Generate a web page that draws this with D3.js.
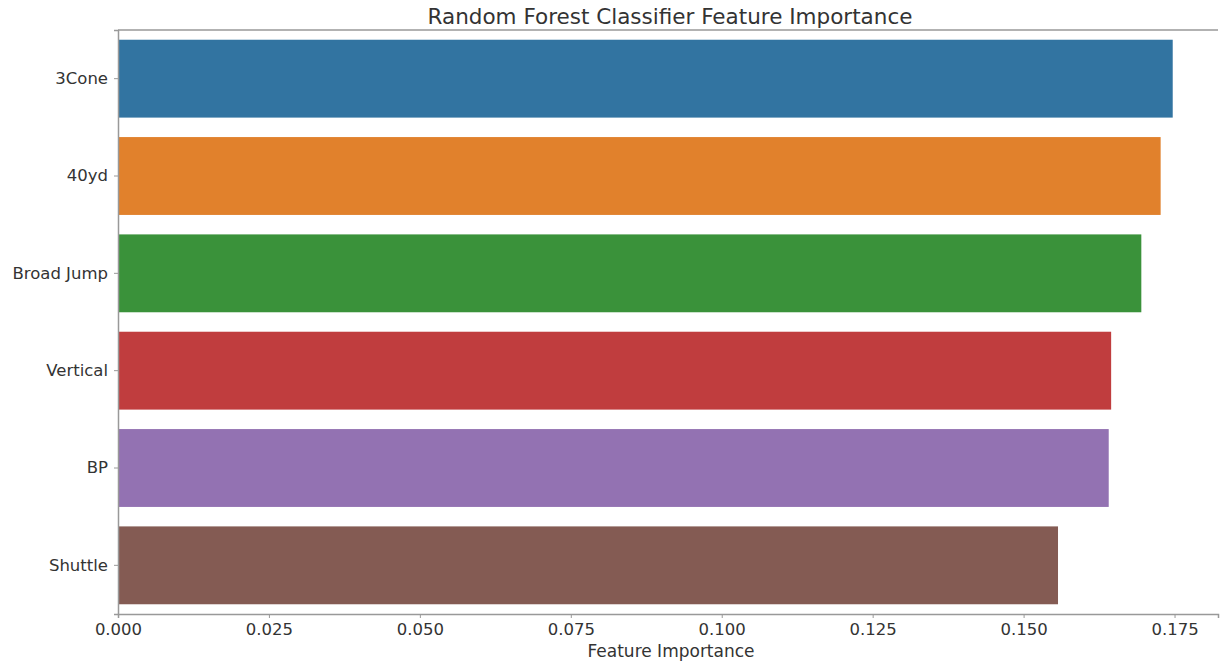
<!DOCTYPE html>
<html>
<head>
<meta charset="utf-8">
<script src="https://cdn.jsdelivr.net/npm/d3@7"></script>
<style>
  body { margin: 0; background: #fff; }
  svg text { font-family: "DejaVu Sans", sans-serif; fill: #333; }
</style>
</head>
<body>
<div id="chart"></div>
<script>
// Data
const features = ['3Cone', '40yd', 'Broad Jump', 'Vertical', 'BP', 'Shuttle'];
const importance = [0.1747, 0.1727, 0.1695, 0.1645, 0.1641, 0.1557];
const xTicks = [0, 0.025, 0.05, 0.075, 0.1, 0.125, 0.15, 0.175];
const colors = ['#3274a1', '#e1812c', '#3a923a', '#c03d3e', '#9372b2', '#845b53'];

const width = 1220;
const height = 661;
const margin = { top: 30, right: 2, bottom: 47, left: 118 };
const innerW = width - margin.left - margin.right;
const innerH = height - margin.top - margin.bottom;

const svg = d3.select('#chart').append('svg')
  .attr('width', width)
  .attr('height', height);

const g = svg.append('g')
  .attr('transform', `translate(${margin.left},${margin.top})`);

const x = d3.scaleLinear()
  .domain([0, 0.1822])
  .range([0, innerW]);

const y = d3.scaleBand()
  .domain(features)
  .range([0, innerH])
  .paddingInner(0.2)
  .paddingOuter(0.1);

g.selectAll('.bar')
  .data(features)
  .enter().append('rect')
  .attr('class', 'bar')
  .attr('x', 0)
  .attr('y', d => y(d))
  .attr('width', (d, i) => x(importance[i]))
  .attr('height', y.bandwidth())
  .attr('fill', (d, i) => colors[i]);

// axes
const xAxis = g.append('g')
  .attr('transform', `translate(0,${innerH})`)
  .call(d3.axisBottom(x).tickValues(xTicks).tickFormat(d3.format('.3f')).tickSize(4).tickPadding(5));

const yAxis = g.append('g')
  .call(d3.axisLeft(y).tickSize(4).tickPadding(6));

[xAxis, yAxis].forEach(a => {
  a.select('.domain').attr('stroke', '#999').attr('stroke-width', 1.5);
  a.selectAll('.tick line').attr('stroke', '#999');
  a.selectAll('.tick text').style('font-size', '16.5px').attr('fill', '#333');
});

// top spine
g.append('line')
  .attr('x1', 0).attr('x2', innerW)
  .attr('y1', 0).attr('y2', 0)
  .attr('stroke', '#999').attr('stroke-width', 1.5);

svg.append('text')
  .attr('x', margin.left + innerW / 2 + 2)
  .attr('y', 24)
  .attr('text-anchor', 'middle')
  .style('font-size', '21.5px')
  .text('Random Forest Classifier Feature Importance');

svg.append('text')
  .attr('x', margin.left + innerW / 2 + 3)
  .attr('y', 657)
  .attr('text-anchor', 'middle')
  .style('font-size', '17px')
  .text('Feature Importance');
</script>
</body>
</html>
